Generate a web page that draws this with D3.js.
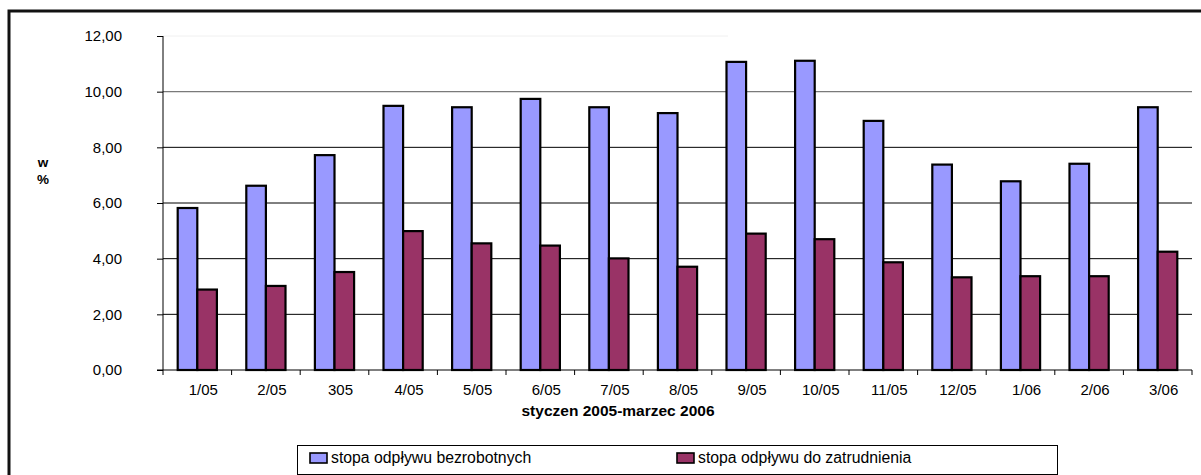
<!DOCTYPE html>
<html>
<head>
<meta charset="utf-8">
<script src="https://cdn.jsdelivr.net/npm/d3@7"></script>
<style>
  body { margin: 0; background: #fff; }
  svg { display: block; }
  text { font-family: Arial, "Liberation Sans", sans-serif; fill: #000; }
</style>
</head>
<body>
<svg id="chart" width="1201" height="475"></svg>
<script>
// Monthly outflow rates from unemployment, Jan 2005 – Mar 2006 (in %)
const categories = ["1/05", "2/05", "305", "4/05", "5/05", "6/05", "7/05", "8/05",
                    "9/05", "10/05", "11/05", "12/05", "1/06", "2/06", "3/06"];
const outflowTotal = [5.82, 6.62, 7.72, 9.49, 9.44, 9.74, 9.44, 9.23,
                      11.07, 11.11, 8.95, 7.38, 6.78, 7.41, 9.44];
const outflowToJobs = [2.89, 3.02, 3.52, 4.99, 4.55, 4.47, 4.01, 3.71,
                       4.90, 4.70, 3.87, 3.33, 3.37, 3.37, 4.25];
const yTicks = [0, 2, 4, 6, 8, 10, 12];
const seriesNames = ["stopa odpływu bezrobotnych", "stopa odpływu do zatrudnienia"];
const seriesColors = ["#9999FF", "#993366"];
const xTitle = "styczen 2005-marzec 2006";

const series = [outflowTotal, outflowToJobs];
const svg = d3.select("#chart");

// plot area
const plot = { left: 163, right: 1192, top: 36, bottom: 370 };

const gap = 1.5 / 3.5; // share of a category slot left empty between groups
const x0 = d3.scaleBand()
  .domain(categories)
  .range([plot.left, plot.right])
  .paddingInner(gap)
  .paddingOuter(gap / 2);
const x1 = d3.scaleBand()
  .domain(d3.range(series.length))
  .range([0, x0.bandwidth()]);
const y = d3.scaleLinear().domain([0, 12]).range([plot.bottom, plot.top]);

// outer frame (top and left edges)
svg.append("path")
  .attr("d", "M9,475V11H1201")
  .attr("fill", "none")
  .attr("stroke", "#111")
  .attr("stroke-width", 3);

// horizontal gridlines
const grid = svg.append("g");
grid.selectAll("line.g")
  .data(yTicks.filter(v => v > 0 && v < 10))
  .join("line")
  .attr("x1", plot.left).attr("x2", plot.right)
  .attr("y1", d => y(d)).attr("y2", d => y(d))
  .attr("stroke", "#000").attr("stroke-width", 1);
grid.append("line")
  .attr("x1", plot.left).attr("x2", plot.right)
  .attr("y1", y(10)).attr("y2", y(10))
  .attr("stroke", "#7a7a7a").attr("stroke-width", 1.2);
grid.append("line")
  .attr("x1", plot.left).attr("x2", 728)
  .attr("y1", y(12)).attr("y2", y(12))
  .attr("stroke", "#f0f0f0").attr("stroke-width", 1);

// bars
const groups = svg.append("g")
  .selectAll("g")
  .data(categories)
  .join("g")
  .attr("transform", d => `translate(${x0(d)},0)`);

groups.selectAll("rect")
  .data((c, i) => series.map((s, k) => ({ k, v: s[i] })))
  .join("rect")
  .attr("x", d => x1(d.k))
  .attr("width", x1.bandwidth())
  .attr("y", d => y(d.v))
  .attr("height", d => y(0) - y(d.v))
  .attr("fill", d => seriesColors[d.k])
  .attr("stroke", "#000")
  .attr("stroke-width", 2.2);

// y axis
const yAxis = d3.axisLeft(y)
  .tickValues(yTicks)
  .tickFormat(d => d3.format(".2f")(d).replace(".", ","))
  .tickSize(6)
  .tickPadding(35);
const gy = svg.append("g")
  .attr("transform", `translate(${plot.left},0)`)
  .call(yAxis);
gy.select(".domain").attr("d", `M0,${plot.top}V${plot.bottom}`).attr("stroke", "#000");
gy.selectAll(".tick line").attr("stroke", "#000");
gy.selectAll(".tick text")
  .attr("font-size", 15)
  .attr("font-family", "Arial, 'Liberation Sans', sans-serif");

// x axis: category labels
const xAxis = d3.axisBottom(x0).tickSize(0).tickPadding(14);
const gx = svg.append("g")
  .attr("transform", `translate(0,${plot.bottom})`)
  .call(xAxis);
gx.select(".domain").attr("d", `M${plot.left - 6},0H${plot.right}`).attr("stroke", "#000");
gx.selectAll(".tick text")
  .attr("font-size", 15)
  .attr("dx", 6)
  .attr("font-family", "Arial, 'Liberation Sans', sans-serif");

// tick marks on category boundaries
const step = x0.step();
gx.selectAll("line.bound")
  .data(d3.range(categories.length + 1))
  .join("line")
  .attr("class", "bound")
  .attr("x1", i => plot.left + i * step)
  .attr("x2", i => plot.left + i * step)
  .attr("y1", 0).attr("y2", 5)
  .attr("stroke", "#000");

// axis titles
svg.append("text")
  .attr("x", 618).attr("y", 416)
  .attr("text-anchor", "middle")
  .attr("font-size", 15.5)
  .attr("font-weight", "bold")
  .text(xTitle);

const yTitle = svg.append("text")
  .attr("x", 43).attr("y", 167)
  .attr("text-anchor", "middle")
  .attr("font-size", 13.5)
  .attr("font-weight", "bold");
yTitle.append("tspan").attr("x", 43).attr("dy", 0).text("w");
yTitle.append("tspan").attr("x", 43).attr("dy", 17).text("%");

// legend
const legend = svg.append("g");
legend.append("rect")
  .attr("x", 297.5).attr("y", 445.5)
  .attr("width", 760).attr("height", 29)
  .attr("fill", "#fff").attr("stroke", "#000").attr("stroke-width", 1);

const legendX = [310, 677];
const items = legend.selectAll("g.item")
  .data(seriesNames)
  .join("g")
  .attr("class", "item")
  .attr("transform", (d, i) => `translate(${legendX[i]},453)`);
items.append("rect")
  .attr("width", 17).attr("height", 10)
  .attr("fill", (d, i) => seriesColors[i])
  .attr("stroke", "#000").attr("stroke-width", 1.6);
items.append("text")
  .attr("x", 21).attr("y", 10)
  .attr("font-size", 15.8)
  .text(d => d);
</script>
</body>
</html>
